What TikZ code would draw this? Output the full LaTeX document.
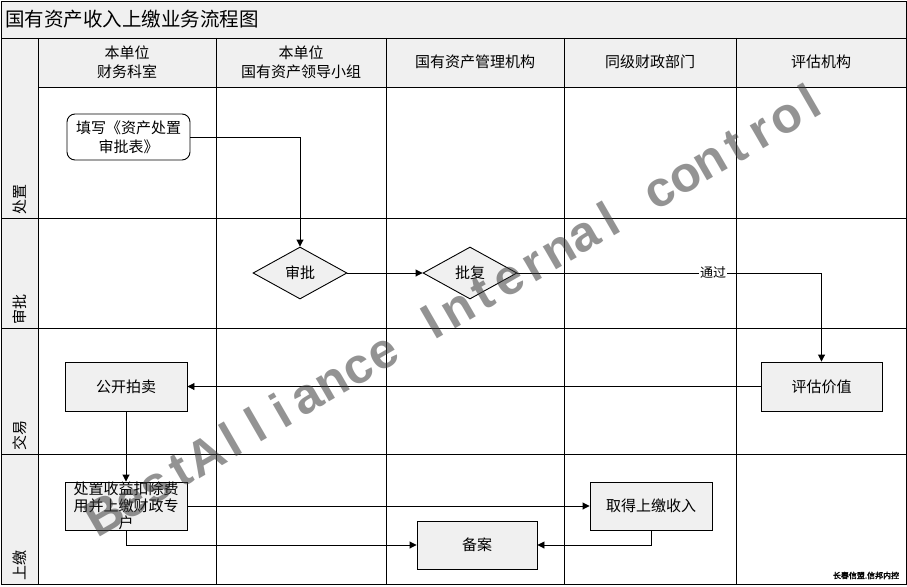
\documentclass[tikz,border=0pt]{standalone}
\usepackage{fontspec}
\setmainfont{Noto Sans CJK SC}
\newfontfamily\wmfont{Liberation Sans}
\newfontfamily\sigfont{Noto Sans CJK SC}[FakeBold=2]
\usetikzlibrary{arrows.meta,shapes.geometric}
\definecolor{bandfill}{RGB}{240,240,240}
\definecolor{shapefill}{RGB}{240,240,240}
\definecolor{wmcol}{RGB}{60,60,60}
\begin{document}
\begin{tikzpicture}[x=1pt,y=-1pt,
  font=\fontsize{15}{19}\selectfont,
  line/.style={line width=0.9pt, draw=black},
  arr/.style={line, -{Triangle[length=7pt,width=7pt]}},
  box/.style={draw, line width=0.9pt, fill=shapefill, minimum width=122pt, minimum height=49pt, inner sep=0pt, align=center},
  dia/.style={draw, line width=0.9pt, diamond, fill=shapefill, minimum width=94pt, minimum height=52pt, inner sep=0pt, aspect=1.8},
  lane/.style={rotate=90, anchor=west, inner sep=0pt},
  hdr/.style={align=center, inner sep=0pt},
  wm/.style={font=\wmfont\bfseries\fontsize{50}{50}\selectfont, text=wmcol, text opacity=0.55, rotate=30, anchor=base, inner sep=0pt}]
\useasboundingbox (0,0) rectangle (907,586);
\fill[white] (0,0) rectangle (907,586);
% bands
\fill[bandfill] (1,1) rectangle (906,38);
\fill[bandfill] (38,38) rectangle (906,87);
\fill[bandfill] (1,38) rectangle (38,584);
% grid
\draw[line] (1,1) rectangle (906,584);
\draw[line] (1,38) -- (906,38);
\draw[line] (38,87) -- (906,87);
\foreach \y in {218,328,454} \draw[line] (1,\y) -- (906,\y);
\foreach \x in {38,216.5,386.5,564.5,736.5} \draw[line] (\x,38) -- (\x,584);
% title
\node[anchor=west, inner sep=0pt, font=\fontsize{19.5}{22}\selectfont] (title) at (5,19.5) {国有资产收入上缴业务流程图};
% headers
\node[hdr] (h1) at (127,62) {本单位\\财务科室};
\node[hdr] (h2) at (301,62) {本单位\\国有资产领导小组};
\node[hdr] (h3) at (475,62) {国有资产管理机构};
\node[hdr] (h4) at (650,62) {同级财政部门};
\node[hdr] (h5) at (821,62) {评估机构};
% lanes
\node[lane] (l1) at (19.5,215) {处置};
\node[lane] (l2) at (19.5,325) {审批};
\node[lane] (l3) at (19.5,451) {交易};
\node[lane] (l4) at (19.5,581) {上缴};
% nodes
\node[box, rounded corners=8pt, fill=white, minimum width=123pt, minimum height=46pt] (tx) at (128.5,137) {填写《资产处置\\审批表》};
\node[dia] (sp) at (300,273) {审批};
\node[dia] (pf) at (470,273) {批复};
\node[box, minimum width=121pt] (pg) at (821.5,386.5) {评估价值};
\node[box] (gk) at (126,386.5) {公开拍卖};
\node[box, minimum height=48pt] (cz) at (126,506) {};
\node[align=center, inner sep=0pt, font=\fontsize{15}{17}\selectfont] (czt) at (cz.center) {处置收益扣除费\\用并上缴财政专\\户};
\node[box, minimum height=48pt] (qd) at (651,506) {取得上缴收入};
\node[box, minimum width=120pt, minimum height=48pt] (ba) at (477,545) {备案};
% connectors
\draw[arr] (tx.east) -| (sp.north);
\draw[arr] (sp.east) -- (pf.west);
\draw[arr] (pf.east) -| (pg.north);
\node[fill=white, inner sep=1pt, font=\fontsize{13}{15}\selectfont] (tg) at (713,273) {通过};
\draw[arr] (pg.west) -- (gk.east);
\draw[arr] (gk.south) -- (cz.north);
\draw[arr] (cz.east) -- (qd.west);
\draw[arr] (cz.south) |- (ba.west);
\draw[arr] (qd.south) |- (ba.east);
% signature
\node[inner sep=0pt, font=\sigfont\fontsize{8}{8}\selectfont] (sig) at (866,575.5) {长春信盟.信邦内控};
% watermark
\foreach \ch [count=\i from 0] in {B,e,s,t,A,l,l,i,a,n,c,e,{},I,n,t,e,r,n,a,l,{},c,o,n,t,r,o,l}
  \node[wm] at ({113+\i*25.21},{529-\i*14.75}) {\ch};
\end{tikzpicture}
\end{document}
